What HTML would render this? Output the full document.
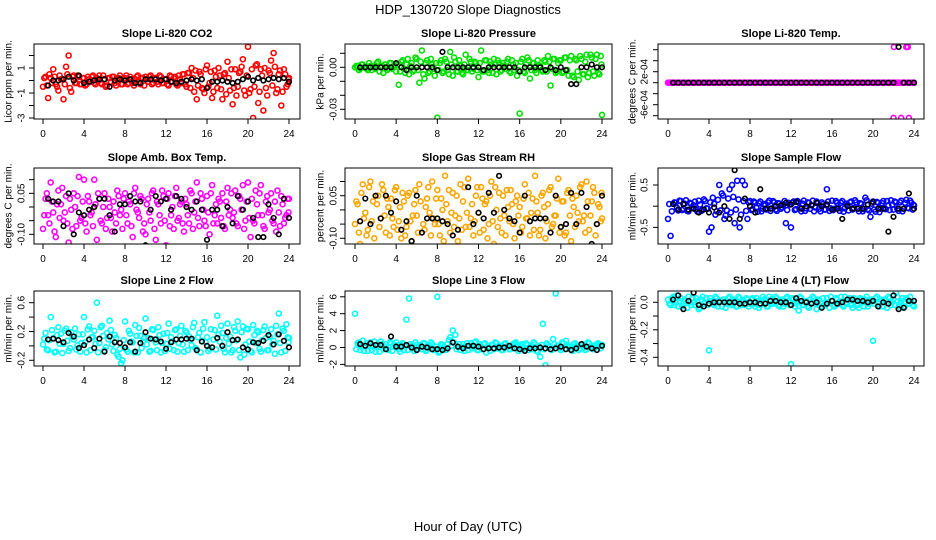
<!DOCTYPE html>
<html><head><meta charset="utf-8"><style>
html,body{margin:0;padding:0;background:#fff;}
svg{display:block;font-family:"Liberation Sans",sans-serif;}
</style></head><body>
<svg id="chart" width="936" height="540" viewBox="0 0 936 540" xmlns="http://www.w3.org/2000/svg">
<rect width="936" height="540" fill="#fff"/>
<text x="468" y="14" text-anchor="middle" font-size="13">HDP_130720  Slope Diagnostics</text>
<text x="468" y="531" text-anchor="middle" font-size="13">Hour of Day (UTC)</text>
</svg>
<script>
const hoursC = [0,0.25,0.5,0.75,1,1.25,1.5,1.75,2,2.25,2.5,2.75,3,3.25,3.5,3.75,4,4.25,4.5,4.75,5,5.25,5.5,5.75,6,6.25,6.5,6.75,7,7.25,7.5,7.75,8,8.25,8.5,8.75,9,9.25,9.5,9.75,10,10.25,10.5,10.75,11,11.25,11.5,11.75,12,12.25,12.5,12.75,13,13.25,13.5,13.75,14,14.25,14.5,14.75,15,15.25,15.5,15.75,16,16.25,16.5,16.75,17,17.25,17.5,17.75,18,18.25,18.5,18.75,19,19.25,19.5,19.75,20,20.25,20.5,20.75,21,21.25,21.5,21.75,22,22.25,22.5,22.75,23,23.25,23.5,23.75,24];
const hoursC2 = [0.125,0.375,0.625,0.875,1.125,1.375,1.625,1.875,2.125,2.375,2.625,2.875,3.125,3.375,3.625,3.875,4.125,4.375,4.625,4.875,5.125,5.375,5.625,5.875,6.125,6.375,6.625,6.875,7.125,7.375,7.625,7.875,8.125,8.375,8.625,8.875,9.125,9.375,9.625,9.875,10.125,10.375,10.625,10.875,11.125,11.375,11.625,11.875,12.125,12.375,12.625,12.875,13.125,13.375,13.625,13.875,14.125,14.375,14.625,14.875,15.125,15.375,15.625,15.875,16.125,16.375,16.625,16.875,17.125,17.375,17.625,17.875,18.125,18.375,18.625,18.875,19.125,19.375,19.625,19.875,20.125,20.375,20.625,20.875,21.125,21.375,21.625,21.875,22.125,22.375,22.625,22.875,23.125,23.375,23.625,23.875,23.95];
const hoursB = [0.5,1,1.5,2,2.5,3,3.5,4,4.5,5,5.5,6,6.5,7,7.5,8,8.5,9,9.5,10,10.5,11,11.5,12,12.5,13,13.5,14,14.5,15,15.5,16,16.5,17,17.5,18,18.5,19,19.5,20,20.5,21,21.5,22,22.5,23,23.5,24];
const xTicks = [0,4,8,12,16,20,24];

// Li-820 CO2 (ppm/min)
const co2C = [-0.5,0.3,-1.4,0.2,0.9,-0.3,-0.8,0.1,-1.5,1.1,2.0,-0.9,0.4,-0.2,0.3,-0.3,
0.2,-0.3,0.1,0.3,-0.2,0.2,0.4,-0.3,0.1,-0.4,0.2,0.3,-0.2,0.1,0.4,-0.3,
0.2,-0.3,0.3,-0.2,0.1,0.4,-0.3,0.2,0.3,-0.1,0.4,-0.2,0.2,-0.3,0.3,-0.2,
0.1,-0.4,0.3,0.2,-0.3,0.4,-0.2,0.5,-0.5,0.6,1.0,-0.9,-1.5,0.7,-0.6,-1.0,
1.2,-0.2,-1.4,0.8,-0.6,0.4,-1.5,0.6,1.5,-0.8,-1.9,0.9,-0.5,0.7,1.7,-1.2,
2.7,-0.7,-3.0,1.2,-1.8,0.9,-2.4,-0.6,0.8,1.6,2.2,-1.0,0.5,-2.0,0.9,-0.5,0.2];
const co2C2 = [0.2,-0.4,0.5,-0.2,0.3,-0.5,0.4,0.1,-0.3,0.5,-0.6,0.3,-0.2,0.4,-0.3,0.2,
-0.4,0.3,-0.1,0.4,-0.3,0.1,-0.2,0.4,-0.5,0.2,-0.1,0.3,-0.4,0.2,-0.3,0.1,
0.4,-0.2,0.1,-0.4,0.3,-0.1,0.2,-0.4,0.1,0.3,-0.3,0.2,-0.1,0.4,-0.2,0.1,
-0.3,0.4,-0.1,0.3,-0.4,0.1,0.5,-0.3,0.6,-0.6,0.2,0.8,-0.4,0.5,-0.7,0.9,
-0.5,0.7,-0.9,0.3,1.0,-0.7,0.5,-1.1,0.2,0.9,-0.6,-1.2,0.6,1.1,-0.8,0.4,
-1.0,0.9,-0.5,1.3,-0.9,0.4,1.0,-1.2,0.6,-0.4,1.1,-0.7,0.8,-0.9,0.5,-0.3,0.1];
const co2B = [-0.4,0,0,0.1,0.3,0,0.4,-0.2,-0.1,0,0.1,0.1,-0.5,0,0.1,0,0.1,-0.2,-0.2,0.1,0.1,0.1,0,0.1,-0.1,-0.2,-0.1,0,0.1,0,0.1,-0.6,-0.1,-0.1,0,-0.1,-0.2,-0.1,0.1,0.3,0,0.2,0,0.1,0.2,0.1,0.2,-0.1];
const co2Ticks = [-3,-2,-1,0,1,2];
const co2Labels = ["-3","","-1","","1",""];

// Li-820 pressure (1e-3 kPa/min)
const presC = [0,1,-1,2,0,-2,1,0,-1,4,0,-4,2,-1,3,0,
-3,-12.5,4,-1,2,-5,3,-2,6,-11,12,-8,5,-3,2,-6,
-36,3,-4,6,-2,11,-6,4,-3,1,-5,9,-2,4,-1,3,
-7,12,-3,5,-4,2,6,-5,3,-2,1,4,-3,5,-2,-6,
-33,6,-4,7,-8,3,-2,5,1,-3,4,8,-13,6,-4,3,
5,-3,7,-6,8,-7,5,-9,6,-5,9,-4,7,-6,9,-5,-34];
const presC2 = [1,-2,2,0,-1,3,-2,1,3,-3,1,2,-2,3,-1,1,
2,-3,5,-4,6,1,-3,7,-2,4,-5,3,-4,6,-1,3,
-2,5,-3,4,-5,2,7,-3,5,-4,2,-2,6,-3,4,-2,
3,-3,5,-2,4,-4,2,5,-3,3,-1,6,-4,2,3,-2,
4,-3,2,5,-2,3,-4,1,-2,5,-3,4,-1,6,-3,5,
-4,7,-2,5,-6,6,-3,8,-5,4,-7,9,-3,6,-4,8,2];
const presB = [0,0,0,0,0,0,0,3,0,-2,0,0,0,0,0,-2,11,0,0,0,0,0,0,0,-2,0,0,0,0,0,0,-3,0,0,0,0,-2,0,-2,0,-2,-12,-12,0,0,2,0,0];
const presTicks = [10,0,-10,-20,-30];
const presLabels = ["","0.00","","","-0.03"];

// Li-820 temperature (1e-4 C/min)
const tempC = [0,0,0,0,0,0,0,0,0,0,0,0,0,0,0,0,0,0,0,0,0,0,0,0,0,0,0,0,0,0,0,0,0,0,0,0,0,0,0,0,0,0,0,0,0,0,0,0,0,0,0,0,0,0,0,0,0,0,0,0,0,0,0,0,0,0,0,0,0,0,0,0,0,0,0,0,0,0,0,0,0,0,0,0,0,0,0,0,-6.4,0,0,-6.4,0,6.5,-6.4,0,0];
const tempC2 = [0,0,0,0,0,0,0,0,0,0,0,0,0,0,0,0,0,0,0,0,0,0,0,0,0,0,0,0,0,0,0,0,0,0,0,0,0,0,0,0,0,0,0,0,0,0,0,0,0,0,0,0,0,0,0,0,0,0,0,0,0,0,0,0,0,0,0,0,0,0,0,0,0,0,0,0,0,0,0,0,0,0,0,0,0,0,0,0,0,0,0,0,0,0,0,0,0];
const tempOutX = [22.05,23.4];
const tempOutY = [6.5,6.5];
const tempB = [0,0,0,0,0,0,0,0,0,0,0,0,0,0,0,0,0,0,0,0,0,0,0,0,0,0,0,0,0,0,0,0,0,0,0,0,0,0,0,0,0,0,0,0,6.5,0,0,0];
const tempTicks = [6,4,2,0,-2,-4,-6];
const tempLabels = ["","","2e-04","","","-6e-04",""];

// Amb box temp (0.01 C/min)
const ambC = [-8,3,-3,9,-2,-11,6,1,-5,4,-13,-1,5,-7,11,-4,
10,-9,2,-2,10,-12,3,-6,5,-4,0,-9,-2,6,-3,-8,
5,-6,1,-11,7,-2,4,-9,-10,3,-5,6,-12,1,-6,4,
-14,5,-3,-8,7,-4,2,-9,1,-6,5,-2,9,-7,3,-5,
4,-10,8,-3,-6,2,5,-8,7,-1,-4,6,-7,3,8,-5,
9,-11,-5,6,-3,8,-7,2,-2,5,-6,-9,-2,4,-6,-3,3];
const ambC2 = [-3,5,-6,2,-9,1,-4,7,-2,-6,3,-8,0,4,-5,2,
-6,4,-3,-7,1,5,-5,0,-8,3,-4,2,-6,4,-1,3,
-3,2,-7,5,-1,-4,3,-6,1,-2,5,-8,2,-3,6,-5,
3,-7,0,4,-5,1,-6,3,-3,6,-8,2,-4,5,-1,-7,
-2,5,-6,1,3,-4,-7,2,-3,5,-2,-6,4,-1,-8,2,
-4,3,-6,1,5,-3,-8,4,-1,-5,2,6,-7,1,-4,3,-2];
const ambB = [3,2,2,-7,5,-10,-2,-3,-1,0,3,3,-3,-9,1,1,4,2,2,-14,-1,4,2,3,-1,4,3,0,-1,2,-1,-12,-1,-1,-7,0,-6,4,-1,2,-4,-11,-11,1,-4,-10,3,-4];
const ambTicks = [10,5,0,-5,-10];
const ambLabels = ["","0.05","","","-0.10"];

// Gas stream RH (0.01 %/min)
const rhC = [-5,2,-12,9,-1,-7,10,3,-13,5,-3,7,-8,1,4,-6,
8,-4,-10,3,-6,6,-11,2,-2,9,-14,-7,4,-1,10,-5,
7,-9,0,12,-4,-8,6,-2,-11,9,3,-6,11,-3,-9,5,
-1,8,-7,3,-5,10,-12,0,6,-8,-2,7,-4,2,-10,5,
1,-6,9,-3,-9,4,12,-1,-7,6,-10,2,8,-5,-2,11,
-6,3,-8,7,-11,1,5,-4,9,-2,10,-7,3,6,-5,1,-3];
const rhC2 = [3,-8,6,-3,-9,8,-4,-10,2,-6,9,-2,4,-9,-3,7,
-7,1,6,-9,5,-4,-2,7,-8,3,-5,1,8,-9,-3,4,
-5,4,-11,2,7,-1,-6,5,-3,-7,8,-1,-6,2,-4,8,
-8,4,2,-10,5,-4,8,-6,-3,5,-9,1,7,-5,3,-2,
-8,4,-3,6,-1,-7,3,-9,5,1,-4,7,-6,-2,4,-8,
3,-9,6,-2,4,-6,-1,8,-4,-8,3,-2,8,-9,2,-4,6];
const rhB = [-4,4,-5,5,-3,5,-1,3,-7,-4,-11,5,-8,-3,-3,-3,-4,-5,-9,-7,-13,8,-5,-1,-3,6,-1,12,0,-3,-4,-8,5,-4,-3,-3,-3,-8,5,-6,-5,6,-5,6,1,-12,-5,5];
const rhTicks = [10,5,0,-5,-10];
const rhLabels = ["","0.05","","","-0.10"];

// Sample flow (0.1 ml/min/min)
const sfC = [-3,-7,-10,0.8,-1,1.2,-0.6,1.4,-1.2,0.6,0.2,-0.8,1.3,-1.1,1.6,-0.5,
-6,-5,0.6,-1.2,5,3,-3,-1,4,5,-4,6,-5,6,5,-3,
1.2,-0.7,0.8,-1.3,1.1,-0.6,0.2,0.9,-1.1,1.2,-0.8,0.7,-0.6,0.3,-4,0.8,
-5,1.1,-0.7,0.9,-1.2,1.3,-0.5,0.8,0.2,-1.2,1.1,-0.6,0.9,-0.8,4,-1.1,
1.3,-0.6,0.8,-1.1,1.2,-0.5,0.3,0.9,-0.8,1.4,-0.6,0.7,-1.2,2,-0.7,-2.5,
1.1,-1.3,0.8,-0.6,1.2,-0.7,0.2,1.4,-0.8,0.9,-1.1,1.3,-0.6,1.5,-0.5,0.8,0.2];
const sfC2 = [0.5,-1.2,0.9,-0.4,1.3,-0.9,0.6,-1.1,0.8,-0.3,1.1,-1.3,0.4,-0.8,1.2,-0.6,
0.9,2,-2,1.5,-1,2.5,-2.2,1.8,-1.5,2.2,-0.8,1.6,-2,1.2,-1.1,0.9,
-0.9,1.1,-0.4,0.7,-1.2,0.5,-0.8,1.3,-0.5,0.9,-1.1,0.6,-0.3,1.2,-0.9,0.4,
0.8,-0.9,1.2,-0.4,0.6,-1.1,0.9,-0.6,1.3,-0.3,0.7,-1.2,0.5,-0.8,1.1,-0.5,
-0.9,1.2,-0.5,0.8,-1.3,0.6,-1.0,1.1,-0.4,0.9,-1.2,0.5,-0.7,1.4,-1.0,0.6,
-0.8,1.0,-1.4,0.7,-0.5,1.2,-0.9,0.4,1.1,-0.6,0.9,-1.2,0.8,-0.4,1.3,-0.8,0.3];
const sfB = [0.5,-0.8,0.5,-0.8,-0.6,-1.5,-0.8,-1.5,-0.3,-1.5,0,-3,8.5,-3,1.8,0,-1.5,4,-0.6,-0.6,0,0.2,0.8,0.4,1,-0.6,0,0.2,0.8,0,0.4,-0.8,-0.6,-3,0,-0.6,-0.6,-0.6,0.4,1,-0.6,-0.6,-6,-2.5,-0.6,-0.6,3,-0.6];
const sfTicks = [5,0,-5];
const sfLabels = ["0.5","","-0.5"];

// Line 2 flow (0.1 ml/min/min)
const l2C = [0.2,1.8,-0.6,4,1.1,-0.8,2.6,1.7,0.3,2.4,-0.7,1.9,0.9,-0.5,1.6,0.4,
4,-0.9,2.7,1.2,2.1,6,0.4,2.8,-0.6,1.8,3.5,0.2,1.5,-1.2,-0.4,-2,
3.4,-0.8,1.7,0.5,2.9,-0.9,1.4,0.6,3.8,1.1,-0.7,2.2,0.5,2.6,-0.9,1.7,
0.3,3.1,1.2,-0.6,2.3,0.4,2.8,-0.8,1.9,1.3,0.1,3.2,-0.5,1.8,0.7,3.3,
1.2,-0.4,8,2.2,4.2,0.6,1.8,-0.9,3.1,1.3,-0.6,2.1,3.4,-1.6,2.7,0.2,
2.3,-0.7,2.9,0.4,1.9,-0.8,2.2,1.1,-0.6,2.3,0.7,2.8,4.5,-0.9,2.1,3,1.1];
const l2C2 = [1,-0.5,0.8,2.2,-0.9,1.5,0.3,-1,2.1,0.7,-0.3,1.3,2.4,0.1,-0.8,1.6,
0.5,2.3,-0.6,1.2,0.3,-0.9,2.6,1.4,-0.2,0.9,2.2,-0.7,1.1,-1.5,-2.4,0.8,
-0.5,2.1,0.6,-0.9,1.4,2.5,-0.3,1.1,0.2,-0.8,2.3,0.9,-0.6,1.5,0.4,-0.7,
1.8,-0.4,0.6,2.2,-0.8,1.4,0.2,2.1,-0.6,0.8,2.6,-0.3,1.2,-0.9,2.4,0.5,
-0.7,2.3,0.9,-0.5,1.6,2.8,-0.4,1.1,0.3,-0.9,2.6,0.8,-0.6,1.9,-1.2,2.4,
0.6,-0.9,1.5,2.1,-0.4,0.8,2.7,-0.6,1.3,0.2,-1.1,1.6,0.4,2.4,-0.7,1.2,0.5];
const l2B = [0.9,1,0.8,0.5,1.8,1.3,-0.3,0.1,0.9,-0.3,1,-0.8,1.3,0.5,0.4,-0.2,0.5,-0.8,0.4,1.9,1,0.9,0.6,-0.4,0.5,0.9,0.9,1,1,-0.6,0.6,0,-0.2,1.1,0,1.9,0.8,0.9,-0.2,-0.5,0.5,0.4,0.7,1.5,0.2,1.6,0.7,-0.2];
const l2Ticks = [6,4,2,0,-2];
const l2Labels = ["0.6","","0.2","","-0.2"];

// Line 3 flow (ml/min/min)
const l3C = [4.0,0.5,-0.3,0.8,0.2,-0.4,0.6,0.1,-0.5,0.3,0.7,-0.2,0.4,-0.3,0.5,0.1,
0.6,-0.2,0.3,-0.3,3.3,5.8,0.2,-0.4,0.3,0.1,-0.2,0.5,-0.3,0.2,0.4,-0.2,
6.0,-0.5,0.3,-0.2,0.4,1.2,2.0,1.5,0.1,-0.3,0.4,0.2,-0.3,0.5,0.1,0.7,
-0.3,0.2,0.4,-0.6,0.1,0.3,-0.2,0.5,0.2,-0.3,0.4,0.1,-0.2,0.3,0.5,-0.1,
0.2,0.4,-0.3,0.3,0.1,-0.2,0.4,-0.5,-1.1,2.8,-2.1,0.3,-0.2,1.0,6.4,0.2,
-0.3,0.5,0.8,0.1,-0.2,0.4,0.2,-0.3,0.3,0.1,-0.2,0.5,0.2,-0.1,0.4,0.2,0.3];
const l3C2 = [-0.2,0.6,0.1,-0.4,0.5,0.3,-0.3,0.7,0.2,-0.5,0.4,0.1,-0.2,0.6,-0.4,0.3,
0.2,-0.5,0.5,0.1,-0.3,0.4,-0.1,0.6,-0.2,0.3,0.5,-0.4,0.2,0.6,-0.3,0.1,
-0.6,0.4,0.1,-0.3,0.9,0.2,0.6,-0.2,0.4,0.1,-0.4,0.5,0.2,-0.1,0.6,-0.3,
0.4,-0.2,0.5,0.1,-0.4,0.3,0.6,-0.1,0.2,-0.3,0.5,0.1,-0.2,0.4,0.6,-0.4,
0.3,-0.1,0.5,-0.3,0.2,0.6,-0.4,0.1,0.3,-0.2,0.5,0.1,-0.3,0.4,0.2,-0.1,
0.6,-0.2,0.3,0.1,-0.4,0.5,0.2,-0.1,0.4,-0.3,0.6,0.1,-0.2,0.3,0.5,-0.1,0.2];
const l3B = [0.4,0.2,0.5,0.3,0.3,-0.2,1.3,0.1,0.1,0.3,0,-0.3,0.1,0,-0.2,-0.2,-0.3,-0.1,0.6,0.1,-0.1,0.2,0.2,0.1,-0.2,-0.1,-0.1,0,0,0.2,-0.1,-0.2,-0.4,-0.1,-0.1,0,-0.1,-0.2,-0.1,0.1,-0.2,-0.3,-0.1,0.4,0.1,-0.1,-0.3,0.2];
const l3Ticks = [6,4,2,0,-2];
const l3Labels = ["6","4","2","0","-2"];

// Line 4 (LT) flow (0.01 ml/min/min)
const l4C = [2,-2,4,0,-3,3,-1,1,4,-2,0,3,-5,2,-1,3,
-35,1,-2,3,0,-3,2,-1,4,-2,1,-3,3,0,-2,2,
-1,3,-3,1,-2,4,0,-3,2,-1,4,-2,1,-3,3,0,
-45,2,-1,-6,3,-2,1,-4,0,3,-5,2,-1,-2,3,-4,
1,-3,2,0,-2,4,-1,3,-4,1,-2,3,0,2,-3,1,
-28,3,-1,2,-3,1,4,-2,2,7,-3,1,-4,3,-1,0,-3];
const l4C2 = [-1,3,-2,5,1,-3,2,-4,0,3,-2,1,-4,4,0,-2,
3,-1,4,-3,1,2,-4,3,-1,2,-3,4,-2,1,3,-3,
2,-1,3,-4,1,2,-3,4,-1,0,3,-3,2,-1,4,-2,
3,-3,1,4,-2,0,-3,2,4,-1,1,-3,3,-2,0,4,
-2,3,-1,4,-3,0,2,-2,3,1,-4,2,-3,4,-1,2,
-1,4,-3,1,2,-4,3,0,-2,4,-1,3,-3,2,4,-2,1];
const l4B = [2,5,-5,1,7,-2,-3,-1,0,0,0,0,0,-1,-1,0,0,-1,-1,1,1,0,0,-2,3,1,0,-1,0,-4,-1,1,-1,0,2,2,1,1,0,1,-3,0,-1,5,-5,-4,1,1];
const l4Ticks = [0,-10,-20,-30,-40];
const l4Labels = ["0.0","","-0.2","","-0.4"];

const NS = 'http://www.w3.org/2000/svg';
const svg = document.getElementById('chart');
function mk(tag, attrs, parent){
  const e = document.createElementNS(NS, tag);
  for (const k in attrs) e.setAttribute(k, attrs[k]);
  (parent||svg).appendChild(e);
  return e;
}
const cols = [{l:34,r:300,x0:43,x1:289,lab:9,tl:22},{l:345,r:612,x0:355,x1:602,lab:321,tl:334},{l:658,r:924,x0:668,x1:914,lab:633,tl:645}];
const rows = [{t:44,b:119},{t:168,b:244},{t:291,b:366}];

function panel(name, title, ylab, ci, ri, y0px, pxPerUnit, ticks, labels, colC, colC2, color, colB, extraX, extraY){
  const c = cols[ci], r = rows[ri];
  const g = mk('g', {});
  
  
  const xs = v => c.x0 + (v/24)*(c.x1-c.x0);
  const ys = v => y0px - v*pxPerUnit;
  const clip = mk('clipPath', {id:'clip-'+name}, g);
  mk('rect', {x:c.l, y:r.t, width:c.r-c.l, height:r.b-r.t}, clip);
  const pts = mk('g', {'clip-path':'url(#clip-'+name+')'}, g);
  for (let i=0;i<colC.length && i<hoursC.length;i++){
    const p = mk('circle', {cx:xs(hoursC[i]), cy:ys(colC[i]), r:2.5, fill:'none', stroke:color, 'stroke-width':1.6}, pts);
    
    
  }
  for (let i=0;i<colC2.length && i<hoursC2.length;i++){
    const p = mk('circle', {cx:xs(hoursC2[i]), cy:ys(colC2[i]), r:2.5, fill:'none', stroke:color, 'stroke-width':1.6}, pts);
    
    
  }
  if (extraX) for (let i=0;i<extraX.length;i++){
    const p = mk('circle', {cx:xs(extraX[i]), cy:ys(extraY[i]), r:2.5, fill:'none', stroke:color, 'stroke-width':1.6}, pts);
    
    
  }
  for (let i=0;i<colB.length && i<hoursB.length;i++){
    const p = mk('circle', {cx:xs(hoursB[i]), cy:ys(colB[i]), r:2.3, fill:'none', stroke:'#000', 'stroke-width':1.6}, pts);
    
    
  }
  const box = mk('rect', {x:c.l, y:r.t, width:c.r-c.l, height:r.b-r.t, fill:'none', stroke:'#000', 'stroke-width':1}, g);
  
  
  const tt = mk('text', {x:(c.l+c.r)/2, y:r.t-7, 'text-anchor':'middle', 'font-size':11, 'font-weight':'bold'}, g);
  tt.textContent = title;
  
  
  xTicks.forEach(v=>{
    const x = xs(v);
    mk('line', {x1:x, y1:r.b, x2:x, y2:r.b+5, stroke:'#000'}, g);
    const t = mk('text', {x:x, y:r.b+18, 'text-anchor':'middle', 'font-size':10}, g);
    t.textContent = v;
    
    
  });
  ticks.forEach((v,i)=>{
    const y = ys(v);
    mk('line', {x1:c.l-5, y1:y, x2:c.l, y2:y, stroke:'#000'}, g);
    if (labels[i]){
      const t = mk('text', {x:c.tl, y:y, 'text-anchor':'middle', 'font-size':10, transform:'rotate(-90 '+c.tl+' '+y+')', 'dominant-baseline':'middle'}, g);
      t.textContent = labels[i];
      
      
    }
  });
  const ym = (r.t+r.b)/2;
  const yl = mk('text', {x:c.lab, y:ym, 'text-anchor':'middle', 'font-size':10, transform:'rotate(-90 '+c.lab+' '+ym+')', 'dominant-baseline':'middle'}, g);
  yl.textContent = ylab;
  
  
}

panel('panel-co2','Slope Li-820 CO2','Licor ppm per min.',0,0,80.5,12.5,co2Ticks,co2Labels,co2C,co2C2,'#ff0000',co2B);
panel('panel-pressure','Slope Li-820 Pressure','kPa per min.',1,0,67.3,1.4,presTicks,presLabels,presC,presC2,'#00e000',presB);
panel('panel-temp','Slope Li-820 Temp.','degrees C per min.',2,0,82.7,5.5,tempTicks,tempLabels,tempC,tempC2,'#ff00ff',tempB,tempOutX,tempOutY);
panel('panel-amb','Slope Amb. Box Temp.','degrees C per min.',0,1,207,2.733,ambTicks,ambLabels,ambC,ambC2,'#ff00ff',ambB);
panel('panel-rh','Slope Gas Stream RH','percent per min.',1,1,209.9,2.84,rhTicks,rhLabels,rhC,rhC2,'#ffa500',rhB);
panel('panel-sample','Slope Sample Flow','ml/min per min.',2,1,206.2,4.24,sfTicks,sfLabels,sfC,sfC2,'#0000ff',sfB);
panel('panel-line2','Slope Line 2 Flow','ml/min per min.',0,2,345.9,7.2,l2Ticks,l2Labels,l2C,l2C2,'#00ffff',l2B);
panel('panel-line3','Slope Line 3 Flow','ml/min per min.',1,2,347.5,8.45,l3Ticks,l3Labels,l3C,l3C2,'#00ffff',l3B);
panel('panel-line4','Slope Line 4 (LT) Flow','ml/min per min.',2,2,302.3,1.375,l4Ticks,l4Labels,l4C,l4C2,'#00ffff',l4B);
</script>
</body></html>
